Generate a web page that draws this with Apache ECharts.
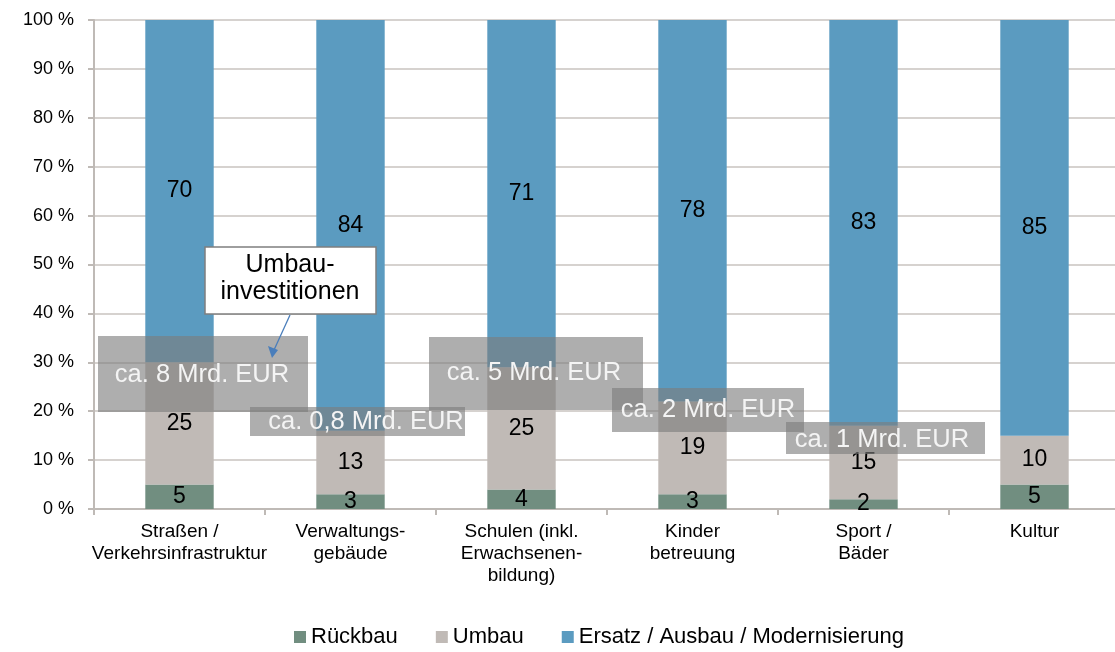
<!DOCTYPE html>
<html>
<head>
<meta charset="utf-8">
<script src="https://cdn.jsdelivr.net/npm/echarts@6/dist/echarts.min.js"></script>
<style>
  html, body { margin: 0; padding: 0; background: #fff; }
  #chart { width: 1115px; height: 652px; }
</style>
</head>
<body>
<div id="chart"></div>
<script>
// Kategorien
const categories = [
  'Straßen /\nVerkehrsinfrastruktur',
  'Verwaltungs-\ngebäude',
  'Schulen (inkl.\nErwachsenen-\nbildung)',
  'Kinder\nbetreuung',
  'Sport /\nBäder',
  'Kultur'
]
// Anteile in %
const rueckbau = [5, 3, 4, 3, 2, 5]
const umbau = [25, 13, 25, 19, 15, 10]
const ersatz = [70, 84, 71, 78, 83, 85]
const yTicks = [0, 10, 20, 30, 40, 50, 60, 70, 80, 90, 100]

// Umbau-Volumen je Box
const boxTexts = ['ca. 8 Mrd. EUR', 'ca. 0,8 Mrd. EUR', 'ca. 5 Mrd. EUR', 'ca. 2 Mrd. EUR', 'ca. 1 Mrd. EUR']

const FONT = '"Liberation Sans", Arial, sans-serif'
const chart = echarts.init(document.getElementById('chart'))

const labelStyle = { show: true, position: 'inside', color: '#000', fontSize: 23, fontFamily: FONT }

// Overlay-Boxen (Position in Pixeln)
const boxes = [
  { x: 98, y: 336, w: 210, h: 76, tx: 202, ty: 375 },
  { x: 250, y: 407, w: 215, h: 29, tx: 366, ty: 422 },
  { x: 429, y: 337, w: 214, h: 73, tx: 534, ty: 373 },
  { x: 612, y: 388, w: 192, h: 44, tx: 708, ty: 410 },
  { x: 786, y: 422, w: 199, h: 32, tx: 882, ty: 440 }
]

const graphics = []
boxes.forEach((b, i) => {
  graphics.push({
    type: 'rect', z: 100,
    shape: { x: b.x, y: b.y, width: b.w, height: b.h },
    style: { fill: 'rgba(125,125,125,0.62)' }
  })
  graphics.push({
    type: 'text', z: 101,
    x: b.tx, y: b.ty,
    style: {
      text: boxTexts[i], fill: '#f4f4f4', fontSize: 25.5, fontFamily: FONT,
      align: 'center', verticalAlign: 'middle'
    }
  })
})
// Callout "Umbauinvestitionen"
graphics.push({
  type: 'rect', z: 102,
  shape: { x: 205, y: 247, width: 171, height: 67 },
  style: { fill: '#fff', stroke: '#7f7f7f', lineWidth: 1.5 }
})
graphics.push({
  type: 'text', z: 103,
  x: 290, y: 279,
  style: {
    text: 'Umbau-\ninvestitionen', fill: '#000', fontSize: 25, fontFamily: FONT,
    align: 'center', verticalAlign: 'middle', lineHeight: 27
  }
})
graphics.push({
  type: 'line', z: 103,
  shape: { x1: 290, y1: 315, x2: 274, y2: 350 },
  style: { stroke: '#4a7ebb', lineWidth: 1.3 }
})
graphics.push({
  type: 'polygon', z: 103,
  shape: { points: [[272, 358], [268, 346], [278, 350]] },
  style: { fill: '#4a7ebb' }
})

chart.setOption({
  animation: false,
  textStyle: { fontFamily: FONT },
  grid: { left: 94, width: 1026, top: 20, bottom: 143, containLabel: false, outerBoundsMode: 'none' },
  legend: {
    top: 621,
    left: 289,
    itemWidth: 12,
    itemHeight: 12,
    itemGap: 38,
    icon: 'rect',
    textStyle: { fontSize: 22, color: '#000', fontFamily: FONT },
    data: ['Rückbau', 'Umbau', 'Ersatz / Ausbau / Modernisierung']
  },
  xAxis: {
    type: 'category',
    data: categories,
    axisLine: { lineStyle: { color: '#bfbab6', width: 2 } },
    axisTick: { show: true, length: 6, lineStyle: { color: '#bfbab6', width: 2 } },
    axisLabel: { color: '#000', fontSize: 19, lineHeight: 22, margin: 12, interval: 0 }
  },
  yAxis: {
    type: 'value',
    min: 0, max: 100, interval: 10,
    axisLine: { show: true, lineStyle: { color: '#bfbab6', width: 2 } },
    axisTick: { show: true, length: 6, lineStyle: { color: '#bfbab6', width: 2 } },
    splitLine: { lineStyle: { color: '#d6d2cf', width: 2 } },
    axisLabel: {
      color: '#000', fontSize: 18, margin: 20,
      formatter: v => (yTicks.includes(v) ? v + ' %' : '')
    }
  },
  series: [
    { name: 'Rückbau', type: 'bar', stack: 'a', barWidth: '40%', data: rueckbau,
      itemStyle: { color: '#718e80' }, label: labelStyle },
    { name: 'Umbau', type: 'bar', stack: 'a', data: umbau,
      itemStyle: { color: '#c0bab6' }, label: labelStyle },
    { name: 'Ersatz / Ausbau / Modernisierung', type: 'bar', stack: 'a', data: ersatz,
      itemStyle: { color: '#5b9bc0' }, label: labelStyle }
  ],
  graphic: graphics
})
</script>
</body>
</html>
